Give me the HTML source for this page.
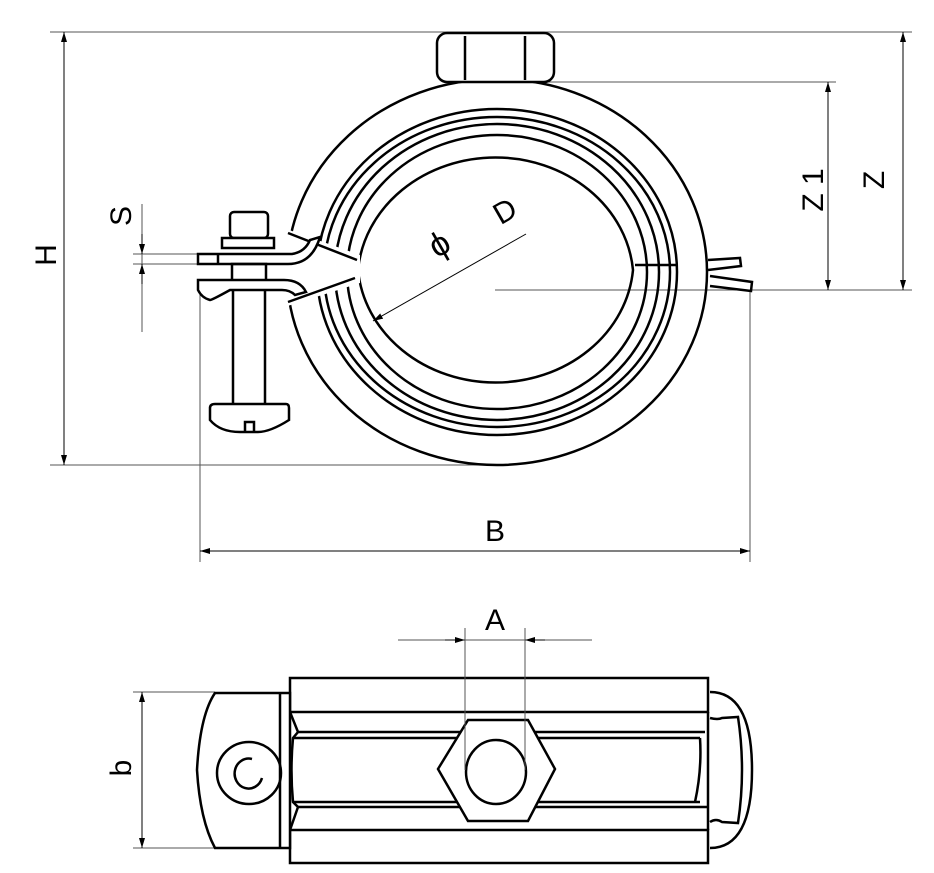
<!DOCTYPE html>
<html><head><style>html,body{margin:0;padding:0;background:#fff}svg{display:block}</style></head>
<body>
<svg width="934" height="873" viewBox="0 0 934 873" xmlns="http://www.w3.org/2000/svg" font-family="Liberation Sans, sans-serif">
<defs>
<marker id="ar" viewBox="0 0 10 6" refX="10" refY="3" markerWidth="10" markerHeight="6" orient="auto-start-reverse" markerUnits="userSpaceOnUse"><path d="M0,0 L10,3 L0,6 z" fill="#000"/></marker>
</defs>
<g stroke="#555" stroke-width="1" fill="none">
<line x1="50" y1="32" x2="912" y2="32"/>
<line x1="500" y1="82" x2="836" y2="82"/>
<line x1="495" y1="290" x2="912" y2="290"/>
<line x1="50" y1="465" x2="500" y2="465"/>
<line x1="200" y1="290" x2="200" y2="562"/>
<line x1="750" y1="290" x2="750" y2="562"/>
<line x1="133" y1="254" x2="220" y2="254"/>
<line x1="133" y1="264" x2="220" y2="264"/>
<line x1="142" y1="204" x2="142" y2="332"/>
<line x1="398" y1="640" x2="592" y2="640"/>
<line x1="133" y1="692" x2="215" y2="692"/>
<line x1="133" y1="848" x2="215" y2="848"/>
</g>
<g stroke="#000" stroke-width="1" fill="none">
<line x1="64" y1="32" x2="64" y2="465" marker-start="url(#ar)" marker-end="url(#ar)"/>
<line x1="903" y1="32" x2="903" y2="290" marker-start="url(#ar)" marker-end="url(#ar)"/>
<line x1="828" y1="82" x2="828" y2="290" marker-start="url(#ar)" marker-end="url(#ar)"/>
<line x1="200" y1="551" x2="750" y2="551" marker-start="url(#ar)" marker-end="url(#ar)"/>
<line x1="142" y1="234" x2="142" y2="254" marker-end="url(#ar)"/>
<line x1="142" y1="284" x2="142" y2="264" marker-end="url(#ar)"/>
<line x1="445" y1="640" x2="465" y2="640" marker-end="url(#ar)"/>
<line x1="545" y1="640" x2="525" y2="640" marker-end="url(#ar)"/>
<line x1="142" y1="692" x2="142" y2="848" marker-start="url(#ar)" marker-end="url(#ar)"/>
<line x1="526" y1="234" x2="373" y2="321" marker-end="url(#ar)"/>
</g>
<g font-size="30" fill="#000">
<text x="495" y="541" text-anchor="middle">B</text>
<text x="495" y="630" text-anchor="middle">A</text>
<text transform="translate(56,255) rotate(-90)" text-anchor="middle">H</text>
<text transform="translate(131,216) rotate(-90)" text-anchor="middle">S</text>
<text transform="translate(131,768) rotate(-90)" text-anchor="middle">b</text>
<text transform="translate(823,190) rotate(-90)" text-anchor="middle">Z 1</text>
<text transform="translate(884,180) rotate(-90)" text-anchor="middle">Z</text>
<text transform="translate(510,220) rotate(-30)" text-anchor="middle">D</text>
<text transform="translate(445,254) rotate(-30)" text-anchor="middle" font-size="34">ϕ</text>
</g>
<g stroke="#000" stroke-width="2.5" fill="none">
<ellipse cx="497" cy="272" rx="210" ry="193"/>
<path d="M358,270 A138,123 0 0 1 633,270 A138,123 0 0 1 358,270" />
<ellipse cx="497" cy="272" rx="150" ry="137"/>
<ellipse cx="497" cy="272" rx="162" ry="148"/>
<ellipse cx="497" cy="272" rx="173" ry="155"/>
<ellipse cx="497" cy="272" rx="180" ry="163"/>
</g>
<polygon points="275,225 360,255 360,283 275,310" fill="#fff"/>
<g stroke="#000" stroke-width="2.5" fill="none">
<line x1="288" y1="233" x2="357" y2="260"/>
<line x1="288" y1="302" x2="355" y2="278"/>
<line x1="635" y1="265" x2="677" y2="265"/>
<rect x="437" y="33" width="117" height="49" rx="10" fill="#fff"/>
<line x1="465" y1="36" x2="465" y2="80"/>
<line x1="525" y1="36" x2="525" y2="80"/>
<rect x="230" y="212" width="38" height="26" rx="4" fill="#fff"/>
<rect x="222" y="238" width="52" height="10" fill="#fff"/>
<path d="M198,254 H292 Q305,252 310,240 L320,237 Q312,264 288,264 H198 Z" fill="#fff"/>
<line x1="218" y1="254" x2="218" y2="264"/>
<rect x="232" y="264" width="34" height="20"/>
<path d="M198,280 H284 Q300,280 306,292 L295,295 Q290,290 282,290 H230 Q212,300 210,300 Q202,298 198,290 Z" fill="#fff"/>
<line x1="233" y1="290" x2="233" y2="404"/>
<line x1="265" y1="290" x2="265" y2="404"/>
<path d="M215,404 H286 Q289,404 289,408 V420 Q270,432 258,432 H240 Q220,432 210,420 V408 Q210,404 215,404 Z" fill="#fff"/>
<path d="M245,432 V422 H254 V432"/>
<path d="M708,260 L740,258 L741,266 L708,270"/>
<path d="M710,276 L752,282 L751,291 L710,286"/>
</g>
<g stroke="#000" stroke-width="2.5" fill="none">
<rect x="290" y="678" width="418" height="34"/>
<rect x="290" y="830" width="418" height="33"/>
<path d="M290,712 L298,732 L293,738 Q290,770 293,802 L298,807 L290,830"/>
<line x1="298" y1="732" x2="705" y2="732"/>
<line x1="293" y1="738" x2="700" y2="738"/>
<line x1="293" y1="802" x2="700" y2="802"/>
<line x1="298" y1="807" x2="708" y2="807"/>
<path d="M700,738 Q702,770 695,802"/>
<line x1="708" y1="712" x2="708" y2="830"/>
<path d="M215,693 H290 V848 H215 Q200,820 197,770 Q200,715 215,693 Z" fill="#fff"/>
<line x1="280" y1="693" x2="280" y2="848"/>
<ellipse cx="249" cy="773" rx="32" ry="31"/>
<path d="M262,778 A14,15 0 1 1 252,759"/>
<path d="M710,692 Q752,692 752,770 Q752,848 710,848"/>
<path d="M710,718 Q718,720 722,718 L738,717 Q746,770 738,823 L722,822 Q716,818 710,822"/>
<polygon points="468,720 528,720 555,769 528,821 468,821 438,769" fill="#fff"/>
<ellipse cx="496" cy="772" rx="30" ry="32"/>
</g>
<line x1="465" y1="628" x2="465" y2="770" stroke="#555" stroke-width="1"/>
<line x1="525" y1="628" x2="525" y2="770" stroke="#555" stroke-width="1"/>
</svg>
</body></html>
